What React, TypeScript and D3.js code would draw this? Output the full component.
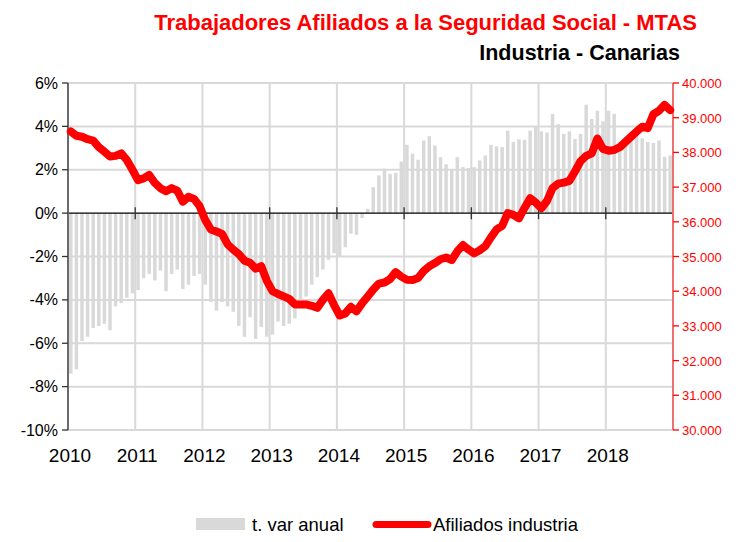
import React from "react";
import * as d3 from "d3";

const years = [2010, 2011, 2012, 2013, 2014, 2015, 2016, 2017, 2018];
const leftTicks = [6, 4, 2, 0, -2, -4, -6, -8, -10];
const rightTicks = [40, 39, 38, 37, 36, 35, 34, 33, 32, 31, 30];

// t. var anual (%), monthly Jan-2010 .. Dec-2018
const varAnual = [
  -7.4, -7.2, -5.9, -5.7, -5.3, -5.2, -5.1, -5.4, -4.3, -4.15, -3.9, -3.7,
  -3.55, -3.0, -2.8, -3.1, -2.65, -3.6, -2.8, -2.6, -3.5, -3.3, -2.9, -2.8,
  -3.3, -4.1, -4.5, -4.1, -4.3, -4.55, -5.2, -5.7, -4.8, -5.8, -5.25, -5.7,
  -5.6, -5.0, -5.2, -5.1, -4.85, -4.3, -3.85, -3.3, -2.95, -2.6, -2.15, -1.85,
  -2.0, -1.57, -0.95, -1.0, -0.23, 0.2, 1.2, 1.74, 2.05, 1.8, 1.86, 2.38,
  3.15, 2.74, 2.46, 3.35, 3.55, 3.12, 2.58, 2.25, 2.0, 2.58, 2.12, 2.08,
  2.12, 2.43, 2.66, 3.15, 3.08, 3.05, 3.8, 3.28, 3.4, 3.38, 3.8, 4.0,
  3.77, 3.72, 4.57, 4.1, 3.65, 3.77, 3.42, 3.65, 5.0, 4.34, 4.72, 4.23,
  4.72, 4.58, 2.9, 3.1, 3.4, 3.6, 3.45, 3.28, 3.23, 3.35, 2.6, 2.66,
];

// Afiliados industria (miles), monthly Jan-2010 .. Dec-2018
const afiliados = [
  38.6, 38.48, 38.45, 38.38, 38.34, 38.15, 38.02, 37.88, 37.9, 37.97, 37.78, 37.5,
  37.2, 37.25, 37.35, 37.12, 36.97, 36.88, 36.97, 36.9, 36.58, 36.72, 36.66, 36.45,
  36.05, 35.78, 35.72, 35.65, 35.35, 35.2, 35.07, 34.88, 34.82, 34.65, 34.72, 34.3,
  34.0, 33.92, 33.85, 33.78, 33.62, 33.62, 33.62, 33.58, 33.52, 33.75, 33.94, 33.6,
  33.3, 33.36, 33.55, 33.42, 33.65, 33.85, 34.05, 34.22, 34.25, 34.35, 34.55, 34.42,
  34.33, 34.32, 34.38, 34.58, 34.72, 34.81, 34.92, 34.97, 34.9, 35.15, 35.33, 35.2,
  35.09, 35.18, 35.3, 35.55, 35.78, 35.88, 36.25, 36.2, 36.1, 36.4, 36.68, 36.55,
  36.39, 36.6, 36.97, 37.1, 37.13, 37.18, 37.45, 37.75, 37.9, 37.97, 38.4, 38.1,
  38.05, 38.07, 38.15, 38.3, 38.45, 38.6, 38.74, 38.7, 39.1, 39.2, 39.37, 39.22,
];

const FONT = "'Liberation Sans', Arial, Helvetica, sans-serif";
const GRID = "#d9d9d9";

export default function App() {
  const W = 752, H = 542;
  const x0 = 68, x1 = 673, yTop = 83, yBot = 430;
  const idx = d3.range(varAnual.length);
  const xb = d3.scaleBand<number>().domain(idx).range([x0, x1]).paddingInner(0.38).paddingOuter(0.19);
  const xYear = d3.scaleLinear().domain([2010, 2019]).range([x0, x1]);
  const yL = d3.scaleLinear().domain([-10, 6]).range([yBot, yTop]);
  const yR = d3.scaleLinear().domain([30, 40]).range([yBot, yTop]);
  const step = (x1 - x0) / varAnual.length;
  const line = d3
    .line<number>()
    .x((_, i) => x0 + (i + 0.5) * step)
    .y((d) => yR(d))
    .curve(d3.curveLinear);

  return (
    <svg width={W} height={H} style={{ position: "absolute", left: 0, top: 0, background: "#fff" }} fontFamily={FONT}>
      {/* titles */}
      <text x={697} y={30} textAnchor="end" fill="#ff0000" fontWeight="bold" fontSize={22}>
        Trabajadores Afiliados a la Seguridad Social - MTAS
      </text>
      <text x={680} y={60} textAnchor="end" fill="#000" fontWeight="bold" fontSize={21.5}>
        Industria - Canarias
      </text>

      {/* gridlines */}
      {leftTicks.filter((t) => t !== 0).map((t) => (
        <line key={"h" + t} x1={x0} x2={x1} y1={yL(t)} y2={yL(t)} stroke={GRID} strokeWidth={2} />
      ))}
      {years.slice(1).map((yv) => (
        <line key={"v" + yv} x1={xYear(yv)} x2={xYear(yv)} y1={yTop} y2={yBot} stroke={GRID} strokeWidth={2} />
      ))}

      {/* bars */}
      {varAnual.map((v, i) => (
        <rect
          key={"b" + i}
          x={xb(i)}
          width={xb.bandwidth()}
          y={Math.min(yL(v), yL(0))}
          height={Math.abs(yL(v) - yL(0))}
          fill={GRID}
        />
      ))}

      {/* zero axis */}
      <line x1={x0} x2={x1} y1={yL(0)} y2={yL(0)} stroke="#000" strokeWidth={1.3} />
      {years.slice(1).map((yv) => (
        <line key={"xt" + yv} x1={xYear(yv)} x2={xYear(yv)} y1={yL(0) - 6} y2={yL(0) + 6} stroke="#333" strokeWidth={1.3} />
      ))}

      {/* left axis */}
      <line x1={x0} x2={x0} y1={yTop} y2={yBot} stroke="#6b6b6b" strokeWidth={2} />
      {leftTicks.map((t) => (
        <g key={"lt" + t}>
          <line x1={x0 - 6} x2={x0} y1={yL(t)} y2={yL(t)} stroke="#333" strokeWidth={1.3} />
          <text x={58} y={yL(t) + 5.5} textAnchor="end" fontSize={16} fill="#000">
            {t + "%"}
          </text>
        </g>
      ))}

      {/* right axis */}
      <line x1={x1} x2={x1} y1={yTop} y2={yBot} stroke="#f07070" strokeWidth={2} />
      {rightTicks.map((t) => (
        <g key={"rt" + t}>
          <line x1={x1} x2={x1 + 6} y1={yR(t)} y2={yR(t)} stroke="#ff0000" strokeWidth={1.3} />
          <text x={682} y={yR(t) + 5} textAnchor="start" fontSize={13} fill="#ff0000">
            {d3.format(".3f")(t)}
          </text>
        </g>
      ))}

      {/* x labels */}
      {years.map((yv) => (
        <text key={"xl" + yv} x={xYear(yv) + 2} y={462} textAnchor="middle" fontSize={19} fill="#000">
          {yv}
        </text>
      ))}

      {/* line */}
      <path d={line(afiliados) || ""} fill="none" stroke="#ff0000" strokeWidth={8} strokeLinejoin="round" strokeLinecap="round" />

      {/* legend */}
      <rect x={196} y={518} width={49} height={12} fill={GRID} />
      <text x={252} y={531} fontSize={18.5} fill="#000">t. var anual</text>
      <line x1={376} x2={428} y1={524.5} y2={524.5} stroke="#ff0000" strokeWidth={7} strokeLinecap="round" />
      <text x={433} y={531} fontSize={18.5} fill="#000">Afiliados industria</text>
    </svg>
  );
}
